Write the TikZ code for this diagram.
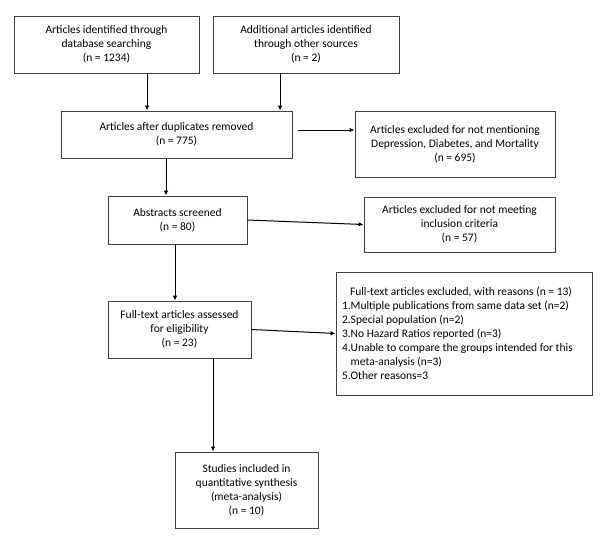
\documentclass[tikz,border=0pt]{standalone}
\usepackage{fontspec}
\setmainfont{Carlito}
\usetikzlibrary{arrows.meta}
\tikzset{
  box/.style={draw=black!75, line width=0.8pt, align=center, inner sep=2pt,
    font=\fontsize{11.5}{14}\selectfont},
  arr/.style={draw=black, line width=1pt, -{Latex[length=5pt,width=4.5pt]}}
}
\begin{document}
\begin{tikzpicture}[x=1pt,y=-1pt]
\useasboundingbox (0,0) rectangle (600,542);
\node[box, minimum width=185, minimum height=57] (b1) at (106.5,44.5)
  {Articles identified through\\database searching\\(n = 1234)};
\node[box, minimum width=186, minimum height=57] (b2) at (306,44.5)
  {Additional articles identified\\through other sources\\(n = 2)};
\node[box, minimum width=231, minimum height=47] (b3) at (176.5,134.5)
  {Articles after duplicates removed\\(n = 775)};
\node[box, minimum width=200, minimum height=66] (b4) at (455,144)
  {Articles excluded for not mentioning\\Depression, Diabetes, and Mortality\\(n = 695)};
\node[box, minimum width=139, minimum height=48] (b5) at (177.5,220)
  {Abstracts screened\\(n = 80)};
\node[box, minimum width=191, minimum height=55] (b6) at (459.5,224.5)
  {Articles excluded for not meeting\\inclusion criteria\\(n = 57)};
\node[box, minimum width=143, minimum height=57] (b7) at (179.5,329.5)
  {Full-text articles assessed\\for eligibility\\(n = 23)};
\node[box, minimum width=256, minimum height=123, align=flush left, text width=244] (b8) at (464,333.5)
  {\hspace*{8pt}Full-text articles excluded, with reasons (n = 13)\\
   1.Multiple publications from same data set (n=2)\\
   2.Special population (n=2)\\
   3.No Hazard Ratios reported (n=3)\\
   4.Unable to compare the groups intended for this\\
   \hphantom{4.}meta-analysis (n=3)\\
   5.Other reasons=3\\[4pt]};
\node[box, minimum width=143, minimum height=76] (b9) at (246.5,490)
  {Studies included in\\quantitative synthesis\\(meta-analysis)\\(n = 10)};
\coordinate (xa) at (147,0);
\coordinate (xb) at (280,0);
\coordinate (xc) at (166,0);
\coordinate (xd) at (175,0);
\coordinate (xe) at (213,0);
\coordinate (s3) at (298,130);
\draw[arr] (b1.south -| xa) -- (b3.north -| xa);
\draw[arr] (b2.south -| xb) -- (b3.north -| xb);
\draw[arr] (s3) -- (b4.west |- s3);
\draw[arr] (b3.south -| xc) -- (b5.north -| xc);
\draw[arr] (b5.east) -- (b6.west);
\draw[arr] (b5.south -| xd) -- (b7.north -| xd);
\draw[arr] (b7.east) -- (b8.west);
\draw[arr] (b7.south -| xe) -- (b9.north -| xe);
\end{tikzpicture}
\end{document}
